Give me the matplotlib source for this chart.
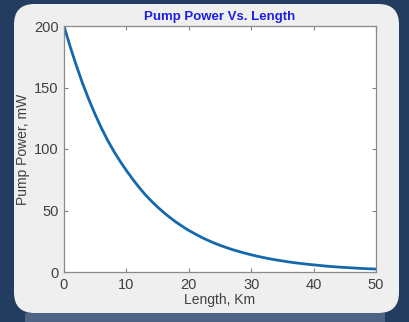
import matplotlib.pyplot as plt
from matplotlib.patches import FancyBboxPatch, Rectangle

# pump power read along the fibre length, one value per km
length_km = list(range(0, 51))
power_mw = [200, 183, 167.5, 153, 140, 128, 117, 107, 98, 90,
            82.5, 75.5, 69, 63, 57.7, 52.8, 48.3, 44.2, 40.4, 37,
            33.8, 31, 28.3, 25.9, 23.7, 21.7, 19.9, 18.2, 16.7, 15.3,
            14, 12.8, 11.7, 10.7, 9.8, 9, 8.2, 7.5, 6.9, 6.3,
            5.8, 5.3, 4.8, 4.4, 4, 3.7, 3.4, 3.1, 2.8, 2.6, 2.4]
x_ticks = [0, 10, 20, 30, 40, 50]
y_ticks = [0, 50, 100, 150, 200]

W, H = 410, 322
plt.rcParams['font.family'] = ['Liberation Sans', 'DejaVu Sans']

fig = plt.figure(figsize=(W / 100, H / 100), dpi=100)
fig.patch.set_facecolor('#233d60')

# lighter strip along the bottom edge
fig.patches.append(Rectangle((25 / W, 0), 360 / W, 9 / H, transform=fig.transFigure,
                             facecolor='#4d6484', edgecolor='none', zorder=0))
# rounded light panel
fig.patches.append(FancyBboxPatch((14 / W, 9 / H), 385 / W, 309 / H,
                                  boxstyle='round,pad=0,rounding_size=0.05',
                                  transform=fig.transFigure, mutation_aspect=W / H,
                                  facecolor='#efefef', edgecolor='none', zorder=1))

ax = fig.add_axes([64 / W, (H - 272) / H, 312 / W, 246 / H])
ax.set_zorder(2)
ax.plot(length_km, power_mw, color='#1469ad', linewidth=2.0)

ax.set_xlim(0, 50)
ax.set_ylim(0, 200)
ax.set_xticks(x_ticks)
ax.set_yticks(y_ticks)
ax.tick_params(direction='in', top=True, right=True, length=3, width=0.8,
               colors='#808080', labelcolor='#404040', labelsize=10.5, pad=4)
for s in ax.spines.values():
    s.set_color('#8a8a8a')
    s.set_linewidth(0.9)

ax.set_title('Pump Power Vs. Length', color='#1c1ee0', fontsize=9.5,
             fontweight='bold', pad=4)
ax.set_xlabel('Length, Km', color='#404040', fontsize=10, labelpad=1)
ax.set_ylabel('Pump Power, mW', color='#404040', fontsize=10, labelpad=3)

fig.savefig('out.png', dpi=100, facecolor=fig.get_facecolor())
